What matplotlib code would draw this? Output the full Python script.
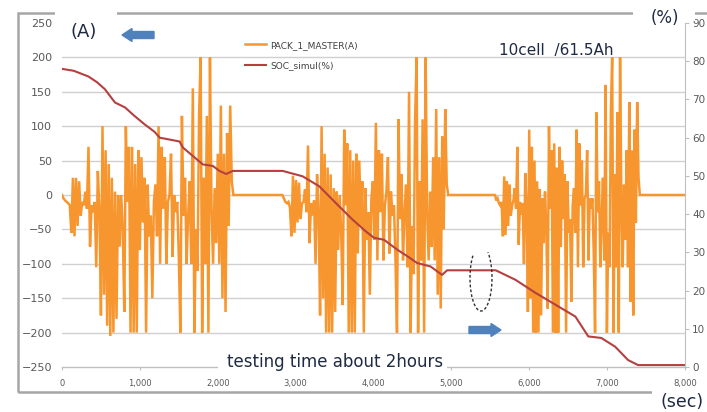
import numpy as np
import matplotlib
matplotlib.use("Agg")
import matplotlib.pyplot as plt
from matplotlib import patches
from matplotlib.transforms import IdentityTransform
from matplotlib.ticker import FuncFormatter

# ---------------- data ----------------
# current bursts (A), sampled evenly between start/end times (sec)
burst1_span = (0, 2200)
burst1_current = [0, -5, -8, -10, -12, -15, -55, 25, -60, 25, -45, 20, -30, -10, -15, 5, -20, 70, -75, -15,
                  -25, -10, -105, 35, -20, -175, 100, -145, 65, -190, 45, -205, 25, -200, 5, -180, 0, -75, 0, -50,
                  -170, 100, -10, 70, -200, 70, -200, 45, -200, 65, -80, 55, -40, 25, -200, 15, -60, -30, -150, -10,
                  15, -60, 100, -100, 70, -20, 55, -100, -10, 0, 60, -90, 0, -25, -10, -90, -200, 115, -30, 25,
                  -100, -30, 20, -100, 155, -200, -50, -110, 115, 200, -200, 25, -100, 115, -200, 200, -20, -100, 10, -70,
                  60, -100, 130, -150, 60, -170, 90, -45, 130, 20, 0]
burst2_span = (2830, 4960)
burst2_current = [0, -5, -10, -12, -10, -18, -60, 28, -55, 22, -40, 18, -35, -12, -10, 8, -25, 72, -70, -12,
                  -30, -8, -100, 30, -25, -175, 100, -150, 60, -200, 40, -200, 30, -200, 10, -170, 5, -80, 0, -55,
                  -160, 95, -15, 75, -200, 65, -200, 50, -200, 60, -85, 50, -45, 20, -200, 10, -65, -25, -145, -5,
                  20, -65, 105, -95, 65, -25, 60, -95, -15, 5, 55, -85, 5, -30, -15, -95, -200, 110, -35, 30,
                  -95, -25, 15, -105, 150, -200, -45, -115, 110, 200, -200, 20, -95, 110, -200, 200, -25, -95, 5, -75,
                  55, -95, 125, -145, 55, -165, 85, -50, 125, 15, 0]
burst3_span = (5560, 7420)
burst3_current = [0, -8, -5, -12, -15, -10, -60, 27, -58, 20, -45, 15, -30, -15, -8, 10, -20, 70, -72, -10,
                  -28, -12, -100, 32, -18, -170, 95, -150, 70, -200, 50, -200, 20, -200, 8, -175, -5, -70, 5, -50,
                  -165, 100, -20, 65, -200, 75, -200, 40, -200, 70, -75, 50, -35, 30, -200, 20, -55, -35, -155, -15,
                  10, -55, 95, -105, 75, -15, 50, -105, -5, 0, 65, -95, -5, -20, -5, -85, -200, 120, -25, 20,
                  -105, -35, 25, -95, 160, -200, -55, -105, 120, 200, -200, 30, -105, 120, -200, 200, -15, -105, 15, -65,
                  65, -105, 135, -155, 65, -175, 95, -40, 135, 25, 0]
end_time = 8000

# SOC (%)
soc_time = [0, 150, 340, 450, 550, 680, 810, 930, 1060, 1190, 1254, 1510, 1553, 1681, 1809, 1937, 2022, 2108, 2193,
            2833, 3089, 3302, 3516, 3729, 3900, 4006, 4134, 4305, 4433, 4561, 4732, 4881, 4945,
            5570, 5824, 6080, 6336, 6592, 6758, 6925, 7104, 7270, 7398, 8000]
soc_value = [78, 77.5, 76, 74.5, 72.7, 69.2, 67.9, 65.7, 63.5, 61.5, 60, 59, 57.4, 55.2, 53, 52.6, 51.3, 50.5, 51.3,
             51.3, 49.9, 47.3, 42.9, 38.6, 35.5, 33.8, 33.3, 30.7, 29, 27.2, 26.3, 24.1, 25.3,
             25.3, 22.8, 19.4, 16.3, 13.2, 8, 7.6, 5.3, 1.8, 0.5, 0.5]

x_ticks = [0, 1000, 2000, 3000, 4000, 5000, 6000, 7000, 8000]
left_ticks = [-250, -200, -150, -100, -50, 0, 50, 100, 150, 200, 250]
right_ticks = [0, 10, 20, 30, 40, 50, 60, 70, 80, 90]
legend_labels = ["PACK_1_MASTER(A)", "SOC_simul(%)"]

# ---------------- build series ----------------
cur_t = np.concatenate([np.linspace(*burst1_span, len(burst1_current)),
                        np.linspace(*burst2_span, len(burst2_current)),
                        np.linspace(*burst3_span, len(burst3_current)), [end_time]])
cur_v = np.concatenate([burst1_current, burst2_current, burst3_current, [0]])

W, H = 707, 412
fig = plt.figure(figsize=(W / 100, H / 100), dpi=100)
fig.patch.set_facecolor("white")

ax = fig.add_axes([62 / W, 1 - 367 / H, (685 - 62) / W, (367 - 23) / H])
ax.set_xlim(0, 8000)
ax.set_ylim(-250, 250)
ax2 = ax.twinx()
ax2.set_ylim(0, 90)

orange = "#F7962E"
red = "#B5403F"
l1, = ax.plot(cur_t, cur_v, color=orange, lw=1.8, solid_joinstyle="miter")
l2, = ax2.plot(soc_time, soc_value, color=red, lw=1.5)

grid_c = "#D0D0D0"
for v in left_ticks[1:-1]:
    ax.axhline(v, color=grid_c, lw=1.0, zorder=0)

ax.set_xticks(x_ticks)
ax.xaxis.set_major_formatter(FuncFormatter(lambda v, p: f"{int(v):,}"))
ax.set_yticks(left_ticks)
ax.tick_params(axis="y", length=0, pad=7, labelsize=8, labelcolor="#595959")
ax.tick_params(axis="x", length=2.5, width=0.8, color="#BFBFBF", pad=6, labelsize=6, labelcolor="#595959")
for s in ["top", "left", "right"]:
    ax.spines[s].set_visible(False)
ax.spines["bottom"].set_color("#BFBFBF")
ax.spines["bottom"].set_linewidth(1.0)

ax2.set_yticks(right_ticks)
for s in ["top", "left", "bottom"]:
    ax2.spines[s].set_visible(False)
ax2.spines["right"].set_color("#BFBFBF")
ax2.tick_params(axis="y", length=3, width=0.8, color="#BFBFBF", pad=2, labelsize=7.5, labelcolor="#595959")

leg = ax2.legend([l1, l2], legend_labels, loc="center left", frameon=False,
                 bbox_to_anchor=(245 / W, 1 - 55.5 / H), bbox_transform=fig.transFigure,
                 fontsize=6.5, handlelength=2.3, handletextpad=0.5, labelspacing=1.3,
                 borderpad=0, borderaxespad=0)
for t in leg.get_texts():
    t.set_color("#404040")

# outer frame
idt = IdentityTransform()
frame = patches.Rectangle((18, H - 392), 720, 379, transform=idt,
                          fill=False, edgecolor="#A6A6A6", lw=1.8, zorder=1)
fig.add_artist(frame)


def white_rect(x0, y0, x1, y1):
    fig.add_artist(patches.Rectangle((x0, H - y1), x1 - x0, y1 - y0, transform=idt,
                                     facecolor="white", edgecolor="none", zorder=4))


white_rect(55, 0, 117, 21)     # behind (A)
white_rect(633, 0, 695, 21)    # behind (%)
white_rect(652, 389, 707, 412)  # behind (sec)
white_rect(218, 352, 447, 375)  # behind testing time text

txt_c = "#1F2A44"
font = "DejaVu Sans"


def ptext(x, y, s, size, ha="left"):
    fig.text(x / W, 1 - y / H, s, fontsize=size, color=txt_c, family=font,
             ha=ha, va="center", zorder=5)


ptext(71, 32, "(A)", 13)
ptext(651, 18, "(%)", 12)
ptext(661, 402, "(sec)", 12.5)
ptext(499, 50, "10cell  /61.5Ah", 11)
ptext(227, 362, "testing time about 2hours", 12)

# blue arrows
blue = "#4F81BD"
fig.add_artist(patches.FancyArrow(154, H - 35, -32, 0, width=7, head_width=13, head_length=10,
                                  length_includes_head=True, color=blue, transform=idt, zorder=5))
fig.add_artist(patches.FancyArrow(469, H - 330, 32, 0, width=7, head_width=13, head_length=10,
                                  length_includes_head=True, color=blue, transform=idt, zorder=5))
# dashed loop
fig.add_artist(patches.Arc((481, H - 278), 22, 66, theta1=-250, theta2=75, transform=idt,
                           color="#303030", lw=1.0, ls=(0, (2, 1.5)), zorder=5))

fig.savefig("out.png", dpi=100, facecolor="white")
